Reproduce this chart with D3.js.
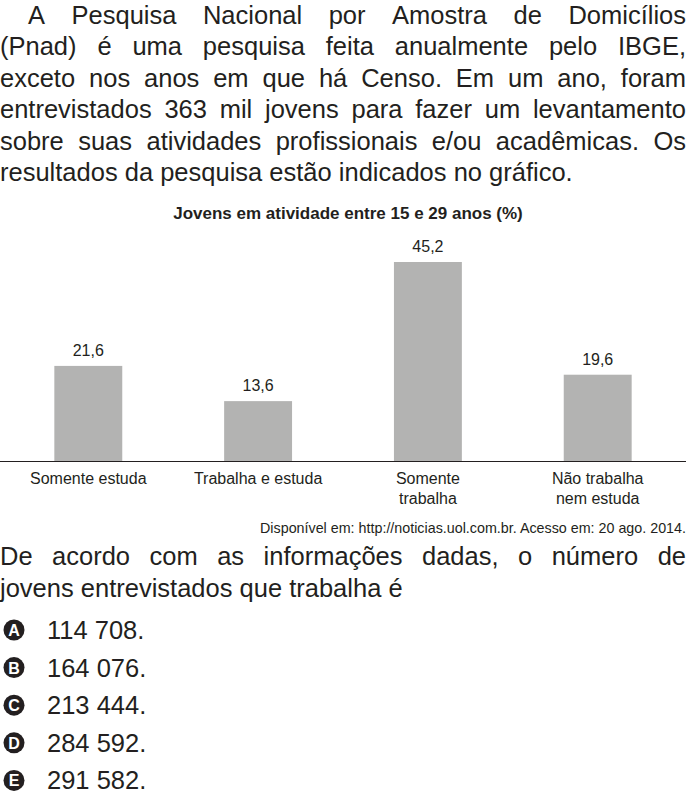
<!DOCTYPE html><html><head><meta charset="utf-8"><script src="https://cdn.jsdelivr.net/npm/d3@7"></script>
<style>body{margin:0;background:#fff}text{font-family:"Liberation Sans",Arial,sans-serif;fill:#231f20}</style></head><body>
<svg id="c" width="696" height="804"></svg>
<script>
const categories=[["Somente estuda"],["Trabalha e estuda"],["Somente","trabalha"],["Não trabalha","nem estuda"]];
const values=[21.6,13.6,45.2,19.6];
const intro=[["A Pesquisa Nacional por Amostra de Domicílios",true,28],["(Pnad) é uma pesquisa feita anualmente pelo IBGE,",true,0],["exceto nos anos em que há Censo. Em um ano, foram",true,0],["entrevistados 363 mil jovens para fazer um levantamento",true,0],["sobre suas atividades profissionais e/ou acadêmicas. Os",true,0],["resultados da pesquisa estão indicados no gráfico.",false,0]];
const question=[["De acordo com as informações dadas, o número de",true],["jovens entrevistados que trabalha é",false]];
const options=[["A","114 708."],["B","164 076."],["C","213 444."],["D","284 592."],["E","291 582."]];
const svg=d3.select("#c");
const FS=25.5;
function para(lines,y0,lh){
  lines.forEach((l,i)=>{
    const y=y0+i*lh, x0=l[2]||0;
    const words=l[0].split(" ");
    if(!l[1]){svg.append("text").attr("x",x0).attr("y",y).attr("font-size",FS).text(l[0]);return;}
    const ts=words.map(w=>svg.append("text").attr("y",y).attr("font-size",FS).text(w));
    const ws=ts.map(t=>t.node().getComputedTextLength());
    const tot=d3.sum(ws), gap=(686-x0-tot)/(words.length-1);
    let x=x0; ts.forEach((t,j)=>{t.attr("x",x);x+=ws[j]+gap;});
  });
}
para(intro,24,31.4);
svg.append("text").attr("x",348).attr("y",219).attr("text-anchor","middle").attr("font-size",17).attr("font-weight","bold").text("Jovens em atividade entre 15 e 29 anos (%)");
const x=d3.scaleBand().domain(d3.range(4)).range([0,686]).paddingInner(0.6).paddingOuter(0.32);
const y=d3.scaleLinear().domain([0,45.2]).range([461,262]);
svg.selectAll("rect").data(values).join("rect").attr("x",(d,i)=>x(i)).attr("width",x.bandwidth()).attr("y",d=>y(d)).attr("height",d=>461-y(d)).attr("fill","#b3b3b2");
svg.selectAll(".v").data(values).join("text").attr("x",(d,i)=>x(i)+x.bandwidth()/2).attr("y",d=>y(d)-10).attr("text-anchor","middle").attr("font-size",16).text(d=>String(d).replace(".",","));
svg.append("line").attr("x1",0).attr("x2",686).attr("y1",461.5).attr("y2",461.5).attr("stroke","#231f20");
categories.forEach((c,i)=>c.forEach((s,j)=>svg.append("text").attr("x",x(i)+x.bandwidth()/2).attr("y",484+j*20).attr("text-anchor","middle").attr("font-size",16).text(s)));
svg.append("text").attr("x",686).attr("y",533).attr("text-anchor","end").attr("font-size",14.3).text("Disponível em: http://noticias.uol.com.br. Acesso em: 20 ago. 2014.");
para(question,565,32);
options.forEach((o,i)=>{const cy=630+i*37.6;
  svg.append("circle").attr("cx",14).attr("cy",cy).attr("r",10.5).attr("fill","#231f20");
  svg.append("text").attr("x",14).attr("y",cy+6).attr("text-anchor","middle").attr("font-size",16).attr("font-weight","bold").style("fill","#fff").text(o[0]);
  svg.append("text").attr("x",47).attr("y",cy+9).attr("font-size",FS).text(o[1]);});
</script></body></html>
